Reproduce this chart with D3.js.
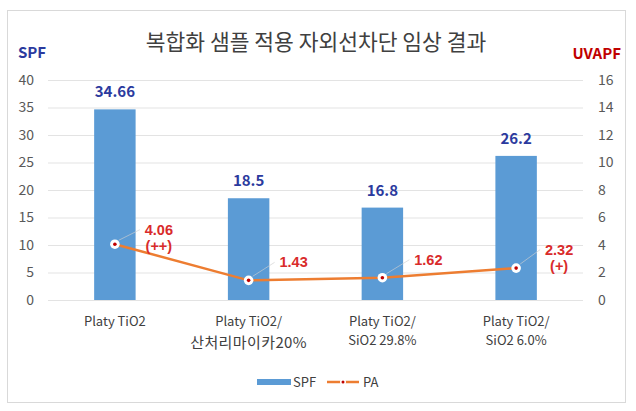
<!DOCTYPE html>
<html>
<head>
<meta charset="utf-8">
<script src="https://d3js.org/d3.v7.min.js"></script>
<style>
  body { margin: 0; background: #fff; }
  text { font-family: "Noto Sans CJK KR", "Noto Sans", sans-serif; }
  text.pa-label { font-family: "Liberation Sans", Arial, sans-serif; }
</style>
</head>
<body>
<div id="chart"></div>
<script>
// chart data
const categories = [
    ["Platy TiO2"],
    ["Platy TiO2/", "산처리마이카20%"],
    ["Platy TiO2/", "SiO2 29.8%"],
    ["Platy TiO2/", "SiO2 6.0%"]
];
const spfValues = [34.66, 18.5, 16.8, 26.2];
const paValues = [4.06, 1.43, 1.62, 2.32];
const paGrades = ["(++)", "", "", "(+)"];
const spfTicks = [0, 5, 10, 15, 20, 25, 30, 35, 40];
const uvapfTicks = [0, 2, 4, 6, 8, 10, 12, 14, 16];

(() => {
    const width = 636, height = 411;
    const plot = { left: 48, right: 583, top: 80, bottom: 300 };
    const colors = {
        bar: "#5b9bd5",
        line: "#ed7d31",
        spf: "#2b3a9e",
        pa: "#d92b2b",
        uvapf: "#c00000",
        tick: "#595959",
        grid: "#e3e3e3"
    };
    // where each PA label sits relative to its point (layout only)
    const paLabelOffset = [
        { dx: 44, dy: -9.5 },
        { dx: 45, dy: -13 },
        { dx: 46, dy: -13 },
        { dx: 43, dy: -13.5 }
    ];

    const svg = d3.select("#chart").append("svg")
        .attr("width", width)
        .attr("height", height);

    svg.append("rect")
        .attr("x", 7.5).attr("y", 10.5)
        .attr("width", 618).attr("height", 392)
        .attr("fill", "#fff")
        .attr("stroke", "#d9d9d9");

    const x = d3.scaleBand()
        .domain(d3.range(categories.length))
        .range([plot.left, plot.right])
        .paddingInner(0.69)
        .paddingOuter(0.345);

    const y = d3.scaleLinear().domain([0, 40]).range([plot.bottom, plot.top]);
    const y2 = d3.scaleLinear().domain([0, 16]).range([plot.bottom, plot.top]);

    // gridlines
    svg.append("g")
        .selectAll("line")
        .data(spfTicks)
        .join("line")
        .attr("x1", plot.left).attr("x2", plot.right)
        .attr("y1", d => y(d) + 0.5).attr("y2", d => y(d) + 0.5)
        .attr("stroke", colors.grid);

    // left axis
    const leftAxis = svg.append("g")
        .attr("transform", `translate(${plot.left},0)`)
        .call(d3.axisLeft(y).tickValues(spfTicks).tickSize(0).tickPadding(14));
    leftAxis.select(".domain").remove();
    leftAxis.selectAll("text")
        .attr("fill", colors.tick)
        .style("font-size", "14px");

    // right axis
    const rightAxis = svg.append("g")
        .attr("transform", `translate(${plot.right},0)`)
        .call(d3.axisRight(y2).tickValues(uvapfTicks).tickSize(0).tickPadding(15));
    rightAxis.select(".domain").remove();
    rightAxis.selectAll("text")
        .attr("fill", colors.tick)
        .style("font-size", "14px");

    // bars
    svg.append("g")
        .selectAll("rect")
        .data(spfValues)
        .join("rect")
        .attr("x", (d, i) => x(i))
        .attr("y", d => y(d))
        .attr("width", x.bandwidth())
        .attr("height", d => y(0) - y(d))
        .attr("fill", colors.bar);

    svg.append("g")
        .selectAll("text")
        .data(spfValues)
        .join("text")
        .attr("x", (d, i) => x(i) + x.bandwidth() / 2)
        .attr("y", d => y(d) - 12)
        .attr("text-anchor", "middle")
        .attr("fill", colors.spf)
        .style("font-size", "15px")
        .style("font-weight", "bold")
        .text(d => d);

    // PA line
    const cx = i => x(i) + x.bandwidth() / 2;
    const line = d3.line()
        .x((d, i) => cx(i))
        .y(d => y2(d));

    svg.append("path")
        .datum(paValues)
        .attr("fill", "none")
        .attr("stroke", colors.line)
        .attr("stroke-width", 2.5)
        .attr("d", line);

    // leader lines
    svg.append("g")
        .selectAll("line")
        .data(paValues)
        .join("line")
        .attr("x1", (d, i) => cx(i) + 4)
        .attr("y1", d => y2(d) - 4)
        .attr("x2", (d, i) => cx(i) + paLabelOffset[i].dx - 19)
        .attr("y2", (d, i) => y2(d) + paLabelOffset[i].dy - 5)
        .attr("stroke", "#d0d0d0")
        .attr("stroke-width", 0.8)
        .attr("opacity", 0.8);

    const markers = svg.append("g")
        .selectAll("g")
        .data(paValues)
        .join("g")
        .attr("transform", (d, i) => `translate(${cx(i)},${y2(d)})`);
    markers.append("circle").attr("r", 4.8).attr("fill", "#fff");
    markers.append("circle").attr("r", 1.8).attr("fill", colors.uvapf);

    // PA values and grades as separate lines
    const paLabels = svg.append("g")
        .selectAll("g")
        .data(paValues.map((v, i) => ({ v, grade: paGrades[i], i })))
        .join("g")
        .attr("transform", d =>
            `translate(${cx(d.i) + paLabelOffset[d.i].dx},${y2(d.v) + paLabelOffset[d.i].dy})`);
    paLabels.append("text")
        .attr("class", "pa-label")
        .attr("y", 0)
        .text(d => d.v.toFixed(2));
    paLabels.filter(d => d.grade)
        .append("text")
        .attr("class", "pa-label")
        .attr("y", 16.5)
        .text(d => d.grade);
    paLabels.selectAll("text")
        .attr("fill", colors.pa)
        .attr("text-anchor", "middle")
        .style("font-size", "14.5px")
        .style("font-weight", "bold");

    // category labels
    const hasHangul = s => /[가-힣]/.test(s);
    svg.append("g")
        .selectAll("text")
        .data(categories)
        .join("text")
        .attr("text-anchor", "middle")
        .attr("fill", "#404040")
        .style("font-size", "13px")
        .attr("transform", (d, i) => `translate(${cx(i)},326)`)
        .selectAll("tspan")
        .data(d => d)
        .join("tspan")
        .attr("x", 0)
        .attr("y", (d, j) => j === 0 ? 0 : (hasHangul(d) ? 21.5 : 19))
        .style("font-size", d => hasHangul(d) ? "15px" : null)
        .style("letter-spacing", d => hasHangul(d) ? "0.4px" : null)
        .text(d => d);

    // titles
    svg.append("text")
        .attr("x", 316).attr("y", 50)
        .attr("text-anchor", "middle")
        .attr("fill", "#404040")
        .style("font-size", "21.5px")
        .text("복합화 샘플 적용 자외선차단 임상 결과");

    svg.append("text")
        .attr("x", 18).attr("y", 58)
        .attr("fill", colors.spf)
        .style("font-size", "15px")
        .style("font-weight", "bold")
        .text("SPF");

    svg.append("text")
        .attr("x", 621).attr("y", 59)
        .attr("text-anchor", "end")
        .attr("fill", colors.uvapf)
        .style("font-size", "15px")
        .style("font-weight", "bold")
        .text("UVAPF");

    // legend
    const legend = svg.append("g").attr("transform", "translate(0,382)");
    legend.append("rect")
        .attr("x", 257).attr("y", -3)
        .attr("width", 34).attr("height", 6)
        .attr("fill", colors.bar);
    legend.append("text")
        .attr("x", 293).attr("y", 5)
        .attr("fill", "#404040")
        .style("font-size", "13px")
        .text("SPF");
    legend.append("line")
        .attr("x1", 327).attr("x2", 359)
        .attr("stroke", colors.line)
        .attr("stroke-width", 2.5);
    legend.append("circle")
        .attr("cx", 343).attr("r", 3)
        .attr("fill", "#fff");
    legend.append("circle")
        .attr("cx", 343).attr("r", 1.5)
        .attr("fill", colors.uvapf);
    legend.append("text")
        .attr("x", 363).attr("y", 5)
        .attr("fill", "#404040")
        .style("font-size", "13px")
        .text("PA");
})();
</script>
</body>
</html>
